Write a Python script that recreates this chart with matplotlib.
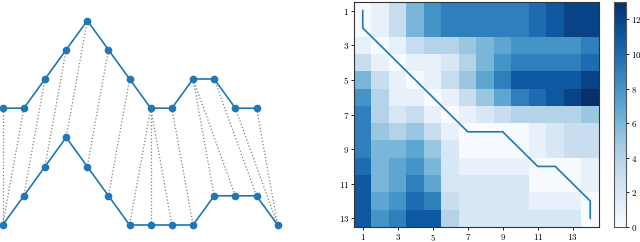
import matplotlib
matplotlib.use("Agg")
import matplotlib.pyplot as plt
import numpy as np

plt.rcParams['font.family'] = ['DejaVu Serif']
plt.rcParams['mathtext.fontset'] = 'cm'

# Two series (top one drawn with an offset)
series_top = [0, 0, 1, 2, 3, 2, 1, 0, 0, 1, 1, 0, 0]
series_bottom = [0, 1, 2, 3, 2, 1, 0, 0, 0, 0, 1, 1, 1, 0]
top_offset = 4

# Warping path (1-based: row = index in top series, col = index in bottom series)
path_rows = [1, 2, 3, 4, 5, 6, 7, 8, 8, 8, 9, 10, 10, 11, 12, 13]
path_cols = [1, 1, 2, 3, 4, 5, 6, 7, 8, 9, 10, 11, 12, 13, 14, 14]

# Accumulated cost matrix (rows 1..13, cols 1..14)
cost = [
    [0, 1, 3, 6, 8, 9, 9, 9, 9, 9, 10, 11, 12, 12],
    [0, 1, 3, 6, 8, 9, 9, 9, 9, 9, 10, 11, 12, 12],
    [1, 0, 1, 3, 4, 4, 5, 6, 7, 8, 8, 8, 8, 9],
    [3, 1, 0, 1, 1, 2, 4, 6, 8, 9, 9, 9, 9, 10],
    [6, 3, 1, 0, 1, 3, 5, 7, 9, 11, 11, 11, 11, 12],
    [8, 4, 1, 1, 0, 1, 3, 5, 7, 9, 10, 11, 12, 13],
    [9, 4, 2, 3, 1, 0, 1, 2, 3, 4, 4, 4, 4, 5],
    [9, 5, 4, 5, 3, 1, 0, 0, 0, 0, 1, 2, 3, 3],
    [9, 6, 6, 7, 5, 2, 0, 0, 0, 0, 1, 2, 3, 3],
    [10, 6, 7, 8, 6, 2, 1, 1, 1, 1, 0, 0, 0, 1],
    [11, 6, 7, 9, 7, 2, 2, 2, 2, 2, 0, 0, 0, 1],
    [11, 7, 8, 10, 9, 3, 2, 2, 2, 2, 1, 1, 1, 0],
    [11, 8, 9, 11, 11, 4, 2, 2, 2, 2, 2, 2, 2, 0],
]
tick_vals = [1, 3, 5, 7, 9, 11, 13]
cbar_ticks = [0, 2, 4, 6, 8, 10, 12]

W, H = 640, 242
fig = plt.figure(figsize=(6.4, 2.42), dpi=100)

blue = '#1f77b4'

# ---- Left panel: alignment ----
axl = fig.add_axes([0, 0, 290 / W, 1])
axl.axis('off')
xt = np.arange(len(series_top))
xb = np.arange(len(series_bottom))
yt = np.array(series_top) + top_offset
yb = np.array(series_bottom)
for r, c in zip(path_rows, path_cols):
    i, j = r - 1, c - 1
    axl.plot([xt[i], xb[j]], [yt[i], yb[j]], ls=':', color='gray', lw=0.9, zorder=1)
axl.plot(xt, yt, '-o', color=blue, lw=1.2, ms=4.5, zorder=3)
axl.plot(xb, yb, '-o', color=blue, lw=1.2, ms=4.5, zorder=3)
sx = 21.15
sy = 29.2
axl.set_xlim(-2.7 / sx, (290 - 2.7) / sx)
axl.set_ylim(-17 / sy, (242 - 17) / sy)

# ---- Right panel: cost matrix ----
x0, x1 = 354, 599
y0, y1 = 2, 227
axr = fig.add_axes([x0 / W, 1 - y1 / H, (x1 - x0) / W, (y1 - y0) / H])
C = np.array(cost)
nr, nc = C.shape
im = axr.imshow(C, cmap='Blues', vmin=0, vmax=13, origin='upper',
                extent=[0.5, nc + 0.5, nr + 0.5, 0.5], aspect='auto',
                interpolation='nearest')
axr.plot(path_cols, path_rows, color=blue, lw=1.2)
axr.set_xticks(tick_vals)
axr.set_yticks(tick_vals)
axr.set_xticklabels([f'${v}$' for v in tick_vals])
axr.set_yticklabels([f'${v}$' for v in tick_vals])
axr.tick_params(labelsize=6.5, length=2.5, width=0.6, pad=1)
for s in axr.spines.values():
    s.set_linewidth(0.8)
    s.set_color('#333333')

cax = fig.add_axes([614 / W, 1 - y1 / H, 12 / W, (y1 - y0) / H])
cb = fig.colorbar(im, cax=cax, ticks=cbar_ticks)
cb.ax.set_yticklabels([f'${v}$' for v in cbar_ticks])
cb.ax.tick_params(labelsize=6.5, length=2.5, width=0.6, pad=1)
cb.outline.set_linewidth(0.8)
cb.outline.set_edgecolor('#555555')

fig.savefig('out.png', dpi=100)
